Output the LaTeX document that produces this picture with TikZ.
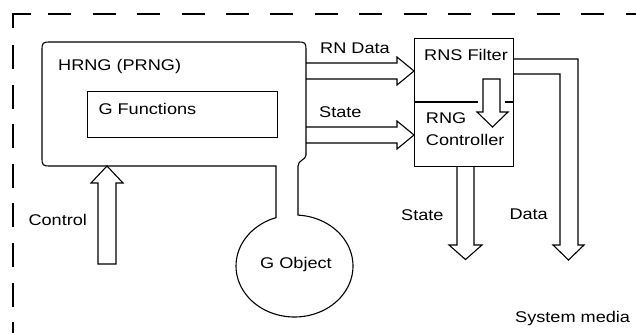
\documentclass[tikz,border=0pt]{standalone}
\usepackage{fontspec}
\setmainfont[FakeStretch=1.17]{Liberation Sans}
\begin{document}
\begin{tikzpicture}[x=1pt,y=-1pt,
  line/.style={draw=black,line width=1.1pt,line join=miter},
  lbl/.style={inner sep=0pt,anchor=base west,font=\fontsize{15.5}{18}\selectfont},
  boxnode/.style={draw=black,line width=1.1pt,inner sep=0pt,anchor=north west}]
\useasboundingbox (0,0) rectangle (636,333);
\fill[white] (0,0) rectangle (636,333);
% dashed system frame
\draw[line] (13,28) -- (13,14) -- (30.7,14);
\draw[line,dash pattern=on 23pt off 21.4pt] (48.3,14) -- (636,14);
\draw[line,dash pattern=on 24pt off 15.6pt] (13,45) -- (13,333);
% HRNG balloon with G Object
\coordinate (gobj) at (294.5,266);
\draw[line] plot[domain=108.4:446.57,samples=90] ({294.5+58.5*cos(\x)},{266-51*sin(\x)})
  -- (298,166) .. controls (298,160) and (306,160) .. (306,155)
  -- (306,52) .. controls (306,42) .. (296,42)
  -- (52,42) .. controls (42,42) .. (42,52)
  -- (42,156) .. controls (42,166) .. (52,166)
  -- (276,166) -- cycle;
% G Functions box
\node[boxnode,minimum width=190pt,minimum height=46pt] (gfun) at (87,91) {};
% RNS Filter / RNG Controller box
\node[boxnode,minimum width=99pt,minimum height=128pt] (rns) at (414,38) {};
\draw[line] (rns.west |- 0,102) -- (478,102);
\draw[line] (505,102) -- (rns.east |- 0,102);
% inner down arrow
\draw[line] (483,112) -- (483,79) -- (500,79) -- (500,112) -- (508,112) -- (492.5,127) -- (477,112) -- cycle;
% RN Data arrow
\draw[line] (306,63) -- (397,63) -- (397,57) -- (rns.west |- 0,71) -- (397,85) -- (397,79) -- (306,79);
% State arrow
\draw[line] (306,127) -- (397,127) -- (397,121) -- (rns.west |- 0,135) -- (397,149) -- (397,143) -- (306,143);
% Data output arrow
\draw[line] (rns.east |- 0,59) -- (578,59) -- (578,245) -- (584,245) -- (568.5,260) -- (553,245) -- (560,245) -- (560,74) -- (rns.east |- 0,74);
% State output arrow
\draw[line] (457,166) -- (457,245) -- (449,245) -- (465.5,259.5) -- (482,245) -- (474,245) -- (474,166);
% Control arrow
\draw[line] (98,264) -- (98,183) -- (91,183) -- (107,166) -- (123,183) -- (116,183) -- (116,264) -- cycle;
% labels
\node[lbl] (thrng) at (58,70.7) {HRNG (PRNG)};
\node[lbl] (tgfun) at (98.3,114.3) {G Functions};
\node[lbl] (trn) at (320,53.3) {RN Data};
\node[lbl] (tstate1) at (319,117.3) {State};
\node[lbl] (trns) at (424,60) {RNS Filter};
\node[lbl] (trng) at (425.7,123.3) {RNG};
\node[lbl] (tctl) at (425.7,145.7) {Controller};
\node[lbl] (tcontrol) at (28.3,225) {Control};
\node[lbl] (tstate2) at (401,220.7) {State};
\node[lbl] (tdata) at (509.3,219) {Data};
\node[lbl] (tgobj) at (260,268.3) {G Object};
\node[lbl] (tsys) at (515,322.7) {System media};
\end{tikzpicture}
\end{document}
